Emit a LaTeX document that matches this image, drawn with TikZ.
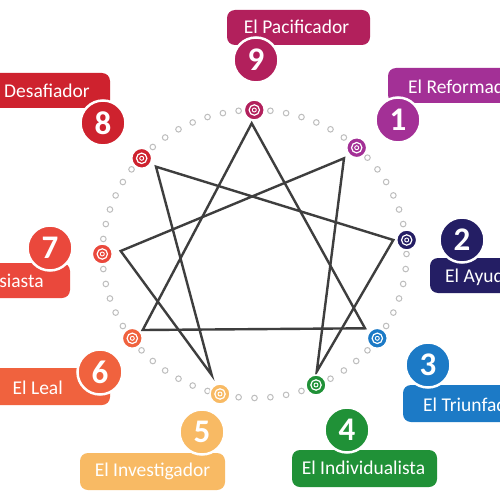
\documentclass[tikz,border=0pt]{standalone}
\usepackage{fontspec}
\setmainfont{Carlito}
\definecolor{c9}{RGB}{178,32,92}
\definecolor{c1}{RGB}{163,48,150}
\definecolor{c2}{RGB}{36,30,100}
\definecolor{c3}{RGB}{28,122,198}
\definecolor{c4}{RGB}{32,145,55}
\definecolor{c5}{RGB}{248,186,100}
\definecolor{c6}{RGB}{240,98,62}
\definecolor{c7}{RGB}{234,72,60}
\definecolor{c8}{RGB}{206,34,46}
\definecolor{dotgray}{RGB}{190,190,190}
\definecolor{linegray}{RGB}{62,62,62}
\begin{document}
\begin{tikzpicture}[x=1pt,y=-1pt,
  lbl/.style={font=\fontsize{19.5}{19.5}\selectfont, text=white, inner sep=0pt},
  num/.style={circle, fill=#1, minimum size=45pt, inner sep=0pt, draw=white, line width=2.5pt,
    font=\fontsize{33}{33}\selectfont\bfseries, text=white},
  mk/.style={circle, fill=#1, minimum size=20pt, inner sep=0pt, draw=white, line width=1.5pt,
    path picture={\draw[white, line width=1.2pt] (path picture bounding box.center) circle[radius=5.2pt];
                  \draw[white, line width=0.9pt] (path picture bounding box.center) circle[radius=2pt];}},
  dotst/.style={draw=dotgray, line width=1pt},
  starline/.style={draw=linegray, line width=2.4pt, line join=miter},
  boxst/.style={rounded corners=8pt}]
\useasboundingbox (0,0) rectangle (500,500);
\clip (0,0) rectangle (500,500);
\fill[white] (0,0) rectangle (500,500);

% dotted ring
\foreach \a in {0,6,...,354}
  \draw[dotst] ({254.5+152*cos(\a)},{254+144*sin(\a)}) circle[radius=2.8pt];

% star vertices
\coordinate (v9) at (251.7,123.3);
\coordinate (v1) at (344,158.3);
\coordinate (v2) at (393.3,240);
\coordinate (v3) at (365,328.3);
\coordinate (v4) at (316.7,371.7);
\coordinate (v5) at (211.7,375);
\coordinate (v6) at (142.7,330);
\coordinate (v7) at (120.7,251);
\coordinate (v8) at (156,166.7);
\draw[starline] (v9) -- (v3) -- (v6) -- cycle;
\draw[starline] (v1) -- (v4) -- (v2) -- (v8) -- (v5) -- (v7) -- cycle;

% markers
\node[mk=c9] (m9) at (254.3,110) {};
\node[mk=c1] (m1) at (356.7,147.7) {};
\node[mk=c2] (m2) at (406.7,240) {};
\node[mk=c3] (m3) at (377.3,338.3) {};
\node[mk=c4] (m4) at (316,385) {};
\node[mk=c5] (m5) at (220,394) {};
\node[mk=c6] (m6) at (132.3,338.3) {};
\node[mk=c7] (m7) at (102.3,254) {};
\node[mk=c8] (m8) at (141.7,158.3) {};

% label boxes
\fill[c9, boxst] (227,10) rectangle (370,45);
\fill[c1, boxst] (388,68) rectangle (530,103);
\fill[c2, boxst] (430,258) rectangle (530,293);
\fill[c3, boxst] (403,385) rectangle (530,422);
\fill[c4, boxst] (292,450) rectangle (437,487);
\fill[c5, boxst] (80,453) rectangle (225,490);
\fill[c6, boxst] (-30,368) rectangle (110,405);
\fill[c7, boxst] (-30,263) rectangle (70,298);
\fill[c8, boxst] (-30,73) rectangle (110,108);

% label texts
\node[lbl] (t9) at (296.5,27) {El Pacificador};
\node[lbl, anchor=west] (t1) at (408,87) {El Reformador};
\node[lbl, anchor=west] (t2) at (445,277) {El Ayudador};
\node[lbl, anchor=west] (t3) at (423,405) {El Triunfador};
\node[lbl] (t4) at (363.5,468) {El Individualista};
\node[lbl] (t5) at (152.5,471) {El Investigador};
\node[lbl, anchor=east] (t6) at (63,388) {El Leal};
\node[lbl, anchor=east] (t7) at (44,281) {El Entusiasta};
\node[lbl, anchor=east] (t8) at (90,91) {El Desafiador};

% number circles
\node[num=c9] (n9) at (256,60) {9};
\node[num=c1] (n1) at (398,120) {1};
\node[num=c2] (n2) at (462,240) {2};
\node[num=c3] (n3) at (428,365) {3};
\node[num=c4] (n4) at (347,430) {4};
\node[num=c5] (n5) at (202,432) {5};
\node[num=c6] (n6) at (100,372) {6};
\node[num=c7] (n7) at (50,248) {7};
\node[num=c8] (n8) at (103,123) {8};
\end{tikzpicture}
\end{document}
